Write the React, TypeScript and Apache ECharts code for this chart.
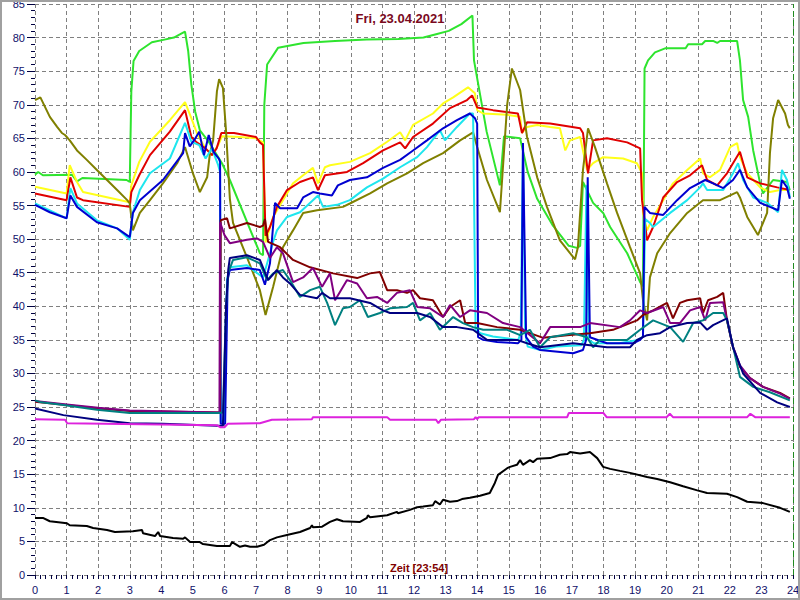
import React, { useEffect, useRef } from "react";
import * as echarts from "echarts";

// Stunden (x) und Temperaturen (y) je Fühler
const gruen: number[][] = [[0,59.6],[0.1,60],[0.25,59.5],[1.17,59.6],[1.33,58.6],[1.5,59.1],[2.9,58.8],[3.0,58.5],[3.05,72],[3.12,76.5],[3.3,78],[3.7,79.3],[4.1,79.7],[4.4,80],[4.6,80.5],[4.75,80.9],[4.85,78],[4.95,73],[5.07,69],[5.22,66.2],[5.5,64.5],[5.92,61.3],[6.17,58.8],[7.12,47.9],[7.22,47.6],[7.26,70],[7.35,76],[7.7,78.5],[8.5,79.2],[9.5,79.5],[10.5,79.7],[11.5,79.8],[12.3,80],[12.7,80.5],[13.1,81],[13.5,82],[13.85,83.3],[13.9,76.6],[14.3,66],[14.72,58],[14.85,65.3],[15.36,65],[15.6,60],[15.9,56],[16.4,52],[16.9,49],[17.16,48.7],[17.26,49],[17.35,58.5],[17.67,55.4],[17.99,53.9],[18.21,51.8],[18.75,47.9],[19.16,43.6],[19.25,43],[19.3,75.4],[19.41,76.6],[19.63,77.8],[19.95,78.4],[20.6,78.4],[20.68,79],[21.12,79],[21.22,79.5],[21.47,79.5],[21.6,79.2],[21.69,79.5],[22.23,79.5],[22.32,76.6],[22.42,70.7],[22.58,68.2],[22.74,63.2],[22.96,58.3],[23.05,56.8],[23.37,58.8],[23.81,58.5],[23.9,57.3]];
const gelb: number[][] = [[0,57.8],[1.0,56.8],[1.1,61],[1.33,58.5],[1.52,57],[3.0,55.5],[3.05,58],[3.3,61.5],[3.64,64.5],[4.27,67.7],[4.75,70.4],[4.95,68],[5.15,65.5],[5.4,63.5],[5.6,62.5],[5.8,64],[5.92,65.3],[6.5,65.2],[7.0,65],[7.22,64.4],[7.3,49.5],[7.54,53.3],[7.85,55.8],[8.17,58.3],[8.49,59.5],[8.8,60.6],[8.96,58.3],[9.18,60.7],[9.34,61],[9.97,61.5],[10.61,62.8],[11.15,64.5],[11.56,65.9],[11.72,64.7],[11.97,67],[12.6,68.7],[12.92,70.2],[13.24,71.1],[13.71,72.6],[13.93,71.7],[14.0,69.2],[14.19,68.7],[14.95,68.5],[15.36,68.2],[15.42,65.8],[15.58,66.7],[15.9,67],[16.31,66.7],[16.62,66.5],[16.79,63.2],[16.94,64.7],[17.26,65.2],[17.48,60.3],[17.67,61.3],[17.99,62.2],[18.62,62],[19.06,61.3],[19.22,59.8],[19.25,53.9],[19.38,51.3],[19.57,53.3],[19.89,55.8],[20.2,58.3],[20.65,60.3],[21.06,62],[21.15,59.8],[21.37,59.2],[21.69,60.3],[22.01,63.7],[22.23,64.3],[22.32,62.2],[22.55,59.8],[22.96,57.7],[23.27,57],[23.59,57.3],[23.9,57.3]];
const rot: number[][] = [[0,56.8],[1.0,55.8],[1.12,59.2],[1.33,56.2],[1.52,55.8],[3.0,54.8],[3.05,57],[3.3,59.5],[3.64,62.5],[4.27,66],[4.75,69.2],[4.95,65.2],[5.12,64.4],[5.4,63.5],[5.6,62.5],[5.75,63.5],[5.9,65.8],[6.3,65.8],[7.0,65.2],[7.12,64.4],[7.22,64],[7.3,50.5],[7.44,51.8],[7.66,54.8],[7.98,57.3],[8.39,58.5],[8.8,59.2],[8.96,57.3],[9.18,59.5],[9.88,60],[10.39,61.3],[11.02,63.2],[11.56,64.4],[11.72,63.5],[11.97,65.2],[12.6,67.2],[13.14,69.5],[13.68,70.7],[13.84,71.4],[14.0,69.6],[14.5,69.2],[15.29,68.7],[15.42,65.8],[15.58,67.4],[16.31,67.2],[17.26,66.5],[17.35,65.8],[17.51,59.8],[17.67,64.7],[18.11,65],[18.75,64.4],[19.16,63.5],[19.22,55.8],[19.38,49.8],[19.57,51.8],[19.89,56.2],[20.33,58.5],[20.74,59.5],[21.12,61],[21.28,58.8],[21.6,58],[21.91,59.8],[22.32,63],[22.55,59.2],[22.96,58.3],[23.5,57.7],[23.9,57.3]];
const oliv: number[][] = [[0,70.7],[0.17,71.1],[0.47,68.2],[0.7,66.7],[0.85,65.8],[0.95,65.5],[1.1,64.7],[1.33,63.2],[1.64,61.8],[1.96,60.3],[2.28,58.8],[2.6,57.3],[2.92,55.8],[3.0,55.3],[3.1,51.3],[3.32,53.9],[3.64,55.8],[4.05,58.3],[4.5,61.3],[4.75,63.7],[5.0,59.8],[5.22,57],[5.45,59.2],[5.54,62.8],[5.64,64.7],[5.76,72],[5.83,73.8],[5.95,72.5],[6.05,66],[6.17,56],[6.27,52.4],[6.71,47.3],[7.12,42.4],[7.3,38.7],[7.54,42.9],[7.85,48.8],[8.17,51.3],[8.49,53.9],[8.93,54.3],[9.75,54.8],[9.97,55.3],[10.61,56.8],[11.15,58.3],[11.78,59.8],[12.29,61.3],[12.92,62.8],[13.46,64.7],[13.87,65.9],[14.0,63.7],[14.31,58.8],[14.72,54],[14.95,70],[15.1,75.4],[15.36,72.2],[15.58,65.2],[15.9,59.2],[16.21,54.8],[16.62,49.8],[16.94,47.9],[17.1,47],[17.19,48.8],[17.35,60.3],[17.51,66.5],[17.73,63.7],[18.11,58.3],[18.43,53.9],[18.84,48.8],[19.16,44.9],[19.25,40.9],[19.38,37.9],[19.47,44.3],[19.7,47.9],[20.11,50.9],[20.65,53.9],[21.15,55.8],[21.69,55.8],[22.23,57],[22.32,56.2],[22.55,53.3],[22.89,50.6],[23.18,53.9],[23.27,62.8],[23.37,68],[23.53,70.7],[23.75,68.7],[23.84,67],[23.9,66.5]];
const cyan: number[][] = [[0,55.3],[1.0,53.1],[1.12,57.6],[1.33,55.3],[1.96,52.8],[2.6,51.6],[3.0,49.9],[3.1,54],[3.32,57.3],[3.64,59.8],[4.27,62],[4.75,67.3],[4.95,64.5],[5.2,64],[5.4,62],[5.6,63.5],[5.8,61],[5.86,60],[5.88,22.8],[6.0,23],[6.08,44],[6.17,45.8],[6.71,46.1],[7.22,44.3],[7.38,46.9],[7.54,49.6],[7.66,51.3],[7.98,53.3],[8.39,54],[8.8,55.8],[8.96,56.5],[9.12,54.8],[9.56,55.1],[9.97,55.8],[10.51,57.7],[11.02,59],[11.56,60.7],[12.1,62.2],[12.41,63.7],[12.82,66.2],[12.98,64.7],[13.36,66.7],[13.77,68.7],[13.87,68.7],[13.95,36.5],[14.1,36],[14.5,35.5],[15.3,35],[15.38,36],[15.45,63.5],[15.52,36],[15.6,34],[16.0,33.5],[16.5,34],[17.3,34.2],[17.38,35],[17.46,58],[17.53,35],[17.7,34.5],[18.5,34.5],[19.1,35],[19.25,35.5],[19.32,53],[19.47,52.4],[19.57,51.8],[20.11,53.9],[20.65,55.8],[21.06,57.7],[21.15,58.3],[21.28,57.3],[21.79,57.3],[22.1,59.8],[22.26,61.3],[22.42,58.8],[22.74,56.2],[23.18,55.4],[23.53,54],[23.65,60.3],[23.81,58.8],[23.9,56.2]];
const blau: number[][] = [[0,55.1],[0.47,54],[1.0,53.1],[1.12,56.5],[1.33,54.8],[1.96,52.5],[2.6,51.6],[3.0,50.3],[3.1,53.9],[3.32,55.8],[4.05,58.8],[4.69,62.8],[4.75,65.8],[4.9,63.8],[5.05,64.8],[5.2,66],[5.35,62.5],[5.5,65.5],[5.65,63],[5.82,62],[5.86,61.5],[5.88,22.5],[6.02,22.5],[6.1,44],[6.17,45.4],[6.71,45.7],[7.12,45.4],[7.28,43.2],[7.44,46.4],[7.6,55.4],[7.76,54.6],[8.3,54.6],[8.49,56.2],[8.8,57],[9.02,56.8],[9.4,56.5],[9.59,58],[9.97,58.8],[10.51,59.2],[11.02,60.6],[11.56,61.8],[11.97,63.2],[12.41,64.7],[12.92,66.5],[13.36,67.7],[13.77,68.7],[13.93,68],[14.0,67.2],[14.03,35.4],[14.19,35],[14.63,34.7],[15.29,34.5],[15.4,35],[15.45,64.3],[15.55,35.4],[15.77,34],[15.99,33.5],[17.04,33],[17.35,33.5],[17.45,35],[17.5,59.2],[17.57,35.4],[18.11,34.5],[18.94,34.5],[19.16,35],[19.25,35.5],[19.3,54.8],[19.47,53.9],[19.89,53.6],[20.33,55.8],[20.74,57.6],[21.22,58.8],[21.47,58.3],[21.79,57.6],[22.1,58.8],[22.32,60.3],[22.55,57.7],[22.96,55.4],[23.27,54.8],[23.53,54.3],[23.65,58.8],[23.81,57.7],[23.9,56]];
const braun: number[][] = [[0,25.8],[1,25.3],[2,24.8],[3,24.4],[5.86,24.2],[5.88,52.8],[6.08,53.1],[6.17,51.6],[6.71,52.4],[7.12,51.8],[7.22,52],[7.28,53],[7.38,49.6],[7.76,48.8],[8.17,46.9],[8.71,45.8],[9.44,44.9],[10.2,44.2],[10.61,44.9],[10.92,45.1],[11.15,42.4],[11.46,42.4],[11.78,42],[11.97,42.4],[12.19,41.2],[12.6,40.9],[12.92,38.4],[13.14,39.9],[13.46,40.9],[13.62,37.5],[14.0,37.5],[14.63,36.9],[15.36,36.5],[15.67,36],[16.09,35.3],[16.85,35.7],[17.57,36],[18.3,36.5],[18.84,37.5],[19.06,37.9],[19.25,38.7],[19.57,39.4],[20.01,40.5],[20.2,38.2],[20.42,40.5],[20.65,40.9],[21.06,41.2],[21.15,39],[21.31,40.9],[21.6,41.4],[21.79,42],[21.91,37.9],[22.1,33.9],[22.32,31],[22.64,29.3],[23.05,28],[23.59,27.1],[23.9,26.3]];
const lila: number[][] = [[0,25.9],[1,25.4],[2,24.9],[3,24.5],[5.84,24.2],[5.86,52.5],[6.0,50.6],[6.17,49.4],[6.71,49.9],[7.03,50.1],[7.22,49.6],[7.44,47.2],[7.66,48.8],[7.85,47.9],[8.17,43.6],[8.49,44.3],[8.8,45.7],[9.09,42.9],[9.34,44.9],[9.5,40.9],[9.88,43.9],[10.2,43.4],[10.51,41.2],[10.83,41.4],[11.15,40.5],[11.46,42],[11.87,42.4],[12.1,39.9],[12.51,39.7],[12.92,38.4],[13.14,40.2],[13.46,38.4],[13.77,39.4],[14.31,39],[14.82,37.5],[15.36,36.9],[15.99,34.5],[16.31,36.9],[17.26,36.9],[17.57,37.5],[18.52,36.9],[18.84,37.9],[19.16,39.4],[19.38,39],[19.89,39.9],[20.11,37.5],[20.42,37.5],[20.74,39.4],[21.06,39.9],[21.22,37.9],[21.37,40.5],[21.79,40.6],[21.91,37.9],[22.1,34],[22.32,31.2],[22.64,29.3],[23.05,28],[23.59,27],[23.9,26.2]];
const petrol: number[][] = [[0,26],[0.2,25.7],[0.9,25.3],[1.96,24.6],[3.0,24.1],[5.76,24.1],[5.95,24.2],[6.05,40],[6.12,45],[6.27,46.9],[6.71,47.3],[7.12,46.4],[7.35,43.9],[7.54,44.9],[7.85,45.4],[8.07,43.9],[8.39,41.4],[8.71,42.4],[9.02,42.9],[9.25,40.5],[9.5,37.2],[9.75,39.7],[9.97,39.9],[10.29,40.9],[10.54,38.4],[10.92,39],[11.24,39.7],[11.78,39.9],[11.97,40.5],[12.19,37.9],[12.51,39],[12.82,36.5],[13.24,38.4],[13.55,37.5],[13.87,36.9],[14.19,36.5],[14.95,36.5],[15.36,35.7],[15.67,36.5],[15.99,33.9],[16.31,35.4],[17.04,36],[17.48,35.4],[17.67,33.9],[17.89,35],[18.75,35],[19.16,36.5],[19.57,37.9],[20.11,36.9],[20.52,34.7],[20.84,37.5],[21.15,37.9],[21.47,39],[21.79,39],[21.91,37.9],[22.32,29.5],[22.74,28],[23.27,27.2],[23.9,26]];
const marine: number[][] = [[0,24.8],[0.9,23.8],[1.96,23.1],[3.0,22.6],[4.05,22.5],[5.76,22.2],[5.95,22.2],[6.05,40],[6.12,45.5],[6.17,47.2],[6.71,47.6],[7.12,46.9],[7.38,43.9],[7.66,45.4],[7.85,44.3],[8.07,43.4],[8.39,41.7],[8.93,41.2],[9.09,42],[9.34,41.2],[9.97,41.2],[10.61,40.5],[11.02,39.4],[11.24,39],[12.1,39],[12.51,38.4],[12.92,36.9],[13.36,36.9],[13.87,36.5],[14.31,35],[15.26,35],[15.58,34.5],[15.99,33.9],[17.04,34.5],[18.11,33.9],[18.84,33.9],[19.06,35],[19.38,35.7],[19.79,36],[20.11,36.9],[20.65,37.5],[21.06,37.6],[21.28,36.5],[21.47,37.2],[21.91,38.2],[22.1,33.9],[22.42,30],[22.96,27.1],[23.5,25.7],[23.9,25]];
const magenta: number[][] = [[0,23.2],[0.95,23.1],[1.02,22.6],[5.76,22.3],[5.86,22],[6.0,22],[6.1,22.5],[7.12,22.6],[7.5,23.1],[8.77,23.2],[8.8,23.5],[11.15,23.5],[11.24,23.1],[12.7,23.1],[12.77,22.6],[12.85,23.1],[13.9,23.2],[13.95,23.5],[14.0,23.2],[14.05,23.5],[16.85,23.5],[16.9,24.1],[18.0,24.1],[18.1,23.5],[20.0,23.5],[20.1,24],[20.2,23.5],[22.55,23.5],[22.65,24],[22.8,23.5],[23.9,23.5]];
const aussen: number[][] = [[0,8.5],[0.25,8.5],[0.47,8.0],[1.01,7.7],[1.1,7.4],[1.64,7.3],[1.84,7.0],[2.28,6.7],[2.53,6.4],[3.1,6.5],[3.39,6.7],[3.42,6.2],[3.8,5.8],[3.9,6.4],[3.96,5.8],[4.37,5.5],[4.69,5.4],[4.75,5.6],[4.91,4.9],[5.22,4.9],[5.32,4.6],[5.76,4.3],[6.17,4.3],[6.24,4.9],[6.49,4.2],[6.65,4.4],[6.81,4.2],[7.03,4.2],[7.25,4.5],[7.44,5.2],[7.66,5.6],[8.01,6],[8.39,6.4],[8.71,7],[8.77,7.4],[8.8,7.1],[9.09,7.2],[9.34,7.9],[9.56,8.3],[9.75,8.0],[10.29,7.9],[10.51,8.5],[10.54,8.9],[10.61,8.6],[11.15,8.9],[11.46,9.4],[11.49,9.2],[11.87,9.7],[12.1,10.1],[12.29,10.2],[12.6,10.4],[12.67,11],[12.82,10.5],[12.92,11.2],[13.14,10.9],[13.36,11],[13.52,11.3],[13.77,11.5],[14.09,11.8],[14.4,12.2],[14.56,13.7],[14.66,14.9],[14.95,15.9],[15.04,16.1],[15.26,16.4],[15.36,17.1],[15.45,16.4],[15.67,17.1],[15.77,16.8],[15.9,17.3],[16.31,17.4],[16.62,17.9],[16.85,18],[16.94,18.3],[17.26,18.1],[17.57,18.3],[17.8,17.4],[17.99,16.1],[18.21,15.8],[18.52,15.5],[18.84,15.2],[19.38,14.6],[19.7,14.3],[20.11,13.8],[20.52,13.2],[20.97,12.6],[21.28,12.2],[21.91,12.1],[22.23,11.6],[22.55,10.9],[23.05,10.7],[23.59,10],[23.9,9.4]];

const titel = "Fri, 23.04.2021";
const xName = "Zeit [23:54]";
const yName = "°C";
const jetzt = 24;

const FONT = "'Liberation Sans', Arial, sans-serif";

export default function App() {
  const ref = useRef<HTMLDivElement>(null);
  useEffect(() => {
    if (!ref.current) return;
    const chart = echarts.init(ref.current, null, { renderer: "svg" });
    const mk = (data: number[][], color: string, width = 2, extra: any = {}) => ({
      type: "line",
      data,
      showSymbol: false,
      symbol: "none",
      lineStyle: { color, width },
      itemStyle: { color },
      animation: false,
      z: 3,
      ...extra,
    });
    chart.setOption({
      animation: false,
      backgroundColor: "#ffffff",
      title: {
        text: titel,
        left: "center",
        top: 7,
        textStyle: { color: "#7a0a1e", fontSize: 13, fontWeight: "bold", fontFamily: FONT },
      },
      grid: { left: 35, right: 7, top: 4, bottom: 25, containLabel: false, outerBoundsMode: "none" },
      xAxis: {
        type: "value",
        min: 0,
        max: 24,
        interval: 1,
        axisLine: { show: false },
        axisTick: { show: true, length: 4, lineStyle: { color: "#000040", width: 1 } },
        minorTick: { show: true, splitNumber: 6, length: 4, lineStyle: { color: "#000040", width: 1 } },
        axisLabel: { color: "#10106a", fontSize: 11, fontFamily: FONT, margin: 9 },
        splitLine: { show: true, lineStyle: { color: "#808080", type: [4, 3], width: 1 } },
      },
      yAxis: {
        type: "value",
        min: 0,
        max: 85,
        interval: 5,
        name: yName,
        nameLocation: "middle",
        nameGap: 22,
        nameRotate: 90,
        nameTextStyle: { color: "#800000", fontSize: 11, fontFamily: FONT },
        axisLine: { show: false },
        axisTick: { show: true, length: 8, lineStyle: { color: "#000040", width: 1 } },
        minorTick: { show: true, splitNumber: 5, length: 4, lineStyle: { color: "#000040", width: 1 } },
        axisLabel: { color: "#10106a", fontSize: 11, fontFamily: FONT, margin: 10 },
        splitLine: { show: true, lineStyle: { color: "#808080", type: [4, 3], width: 1 } },
      },
      graphic: [
        {
          type: "text",
          left: 390,
          top: 562,
          style: { text: xName, fill: "#800000", font: `bold 11px ${FONT}` },
          z: 10,
        },
        {
          type: "rect",
          shape: { x: 1, y: 1, width: 798, height: 598 },
          style: { fill: "none", stroke: "#a0a0a0", lineWidth: 2 },
          z: 10,
        },
      ],
      series: [
        mk(gruen, "#2ee42e", 2, {
          markLine: {
            silent: true,
            symbol: "none",
            label: { show: false },
            lineStyle: { color: "#1f8a1f", type: [6, 3], width: 1 },
            data: [{ xAxis: jetzt }],
          },
        }),
        mk(gelb, "#ffff1a"),
        mk(rot, "#e00000"),
        mk(oliv, "#808000"),
        mk(cyan, "#1ee6ee"),
        mk(blau, "#0000d0"),
        mk(braun, "#800000"),
        mk(lila, "#800080"),
        mk(petrol, "#008080"),
        mk(marine, "#000080"),
        mk(magenta, "#dd22dd"),
        mk(aussen, "#000000"),
      ],
    });
    return () => chart.dispose();
  }, []);
  return (
    <div
      ref={ref}
      style={{ position: "fixed", left: 0, top: 0, width: 800, height: 600 }}
    />
  );
}
